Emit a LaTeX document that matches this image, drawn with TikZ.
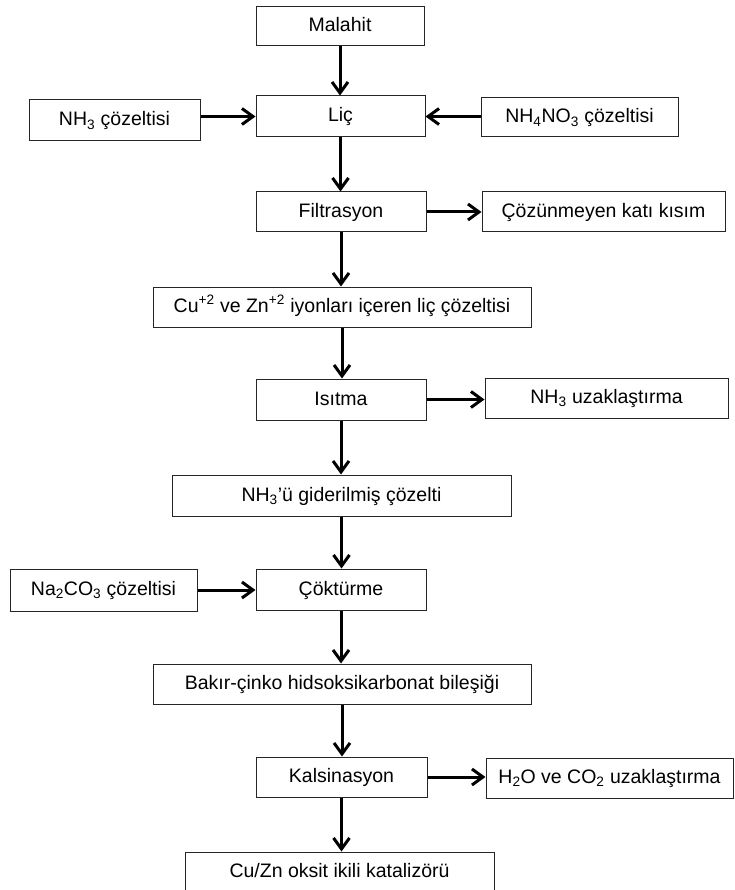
\documentclass[tikz,border=0pt]{standalone}
\usepackage{fontspec}
\setmainfont{Liberation Sans}
\usepackage{tikz}
\usetikzlibrary{arrows.meta, positioning}

\begin{document}
\begin{tikzpicture}[x=1pt, y=-1pt,
        box/.style={draw=black!85, line width=1pt, minimum height=40pt, align=center, inner sep=0pt, text height=15pt, text depth=4pt, font=\fontsize{19.5}{22}\selectfont},
        flow/.style={line width=3pt, -{Straight Barb[length=11pt, width=16pt]}}]
        \useasboundingbox (0,0) rectangle (734,890);
        % main line
        \node[box, minimum width=168pt, minimum height=39pt] (mal) at (340, 26.5) {Malahit};
        \node[box, minimum width=169pt, minimum height=41pt] (lic) at (340.5, 116.5) {Liç};
        \node[box, minimum width=170pt] (fil) at (341, 212) {Filtrasyon};
        \node[box, minimum width=378pt] (cuzn) at (342, 307) {Cu\textsuperscript{+2} ve Zn\textsuperscript{+2} iyonları içeren liç çözeltisi};
        \node[box, minimum width=170pt, minimum height=41pt] (isi) at (341, 399.5) {Isıtma};
        \node[box, minimum width=339pt, minimum height=41pt] (gid) at (341.5, 495.5) {NH\textsubscript{3}'ü giderilmiş çözelti};
        \node[box, minimum width=170pt, minimum height=41pt] (cok) at (341, 589.5) {Çöktürme};
        \node[box, minimum width=378pt] (bak) at (342, 684) {Bakır-çinko hidsoksikarbonat bileşiği};
        \node[box, minimum width=171pt] (kal) at (341.5, 777) {Kalsinasyon};
        \node[box, minimum width=309pt] (cuo) at (339.5, 872) {Cu/Zn oksit ikili katalizörü};
        % side boxes
        \node[box, minimum width=171pt, minimum height=41pt] (nh3) at (114.5, 120.5) {NH\textsubscript{3} çözeltisi};
        \node[box, minimum width=197pt, minimum height=39pt] (nh4) at (579.5, 117.5) {NH\textsubscript{4}NO\textsubscript{3} çözeltisi};
        \node[box, minimum width=243pt] (coz) at (603.5, 212) {Çözünmeyen katı kısım};
        \node[box, minimum width=243pt] (nh3u) at (606.5, 398) {NH\textsubscript{3} uzaklaştırma};
        \node[box, minimum width=187pt, minimum height=42pt] (na) at (103.5, 590) {Na\textsubscript{2}CO\textsubscript{3} çözeltisi};
        \node[box, minimum width=247pt] (h2o) at (609.5, 778) {H\textsubscript{2}O ve CO\textsubscript{2} uzaklaştırma};
        % arrows
        \draw[flow] (mal) -- (mal |- lic.north);
        \draw[flow] (lic) -- (lic |- fil.north);
        \draw[flow] (fil) -- (fil |- cuzn.north);
        \draw[flow] (cuzn) -- (cuzn |- isi.north);
        \draw[flow] (isi) -- (isi |- gid.north);
        \draw[flow] (gid) -- (gid |- cok.north);
        \draw[flow] (cok) -- (cok |- bak.north);
        \draw[flow] (bak) -- (bak |- kal.north);
        \draw[flow] (kal) -- (kal |- cuo.north);
        \draw[flow] (nh3.east |- lic.west) -- (lic.west);
        \draw[flow] (nh4.west |- lic.east) -- (lic.east);
        \draw[flow] (fil) -- (fil -| coz.west);
        \draw[flow] (isi) -- (isi -| nh3u.west);
        \draw[flow] (na) -- (na -| cok.west);
        \draw[flow] (kal) -- (kal -| h2o.west);
\end{tikzpicture}
\end{document}
